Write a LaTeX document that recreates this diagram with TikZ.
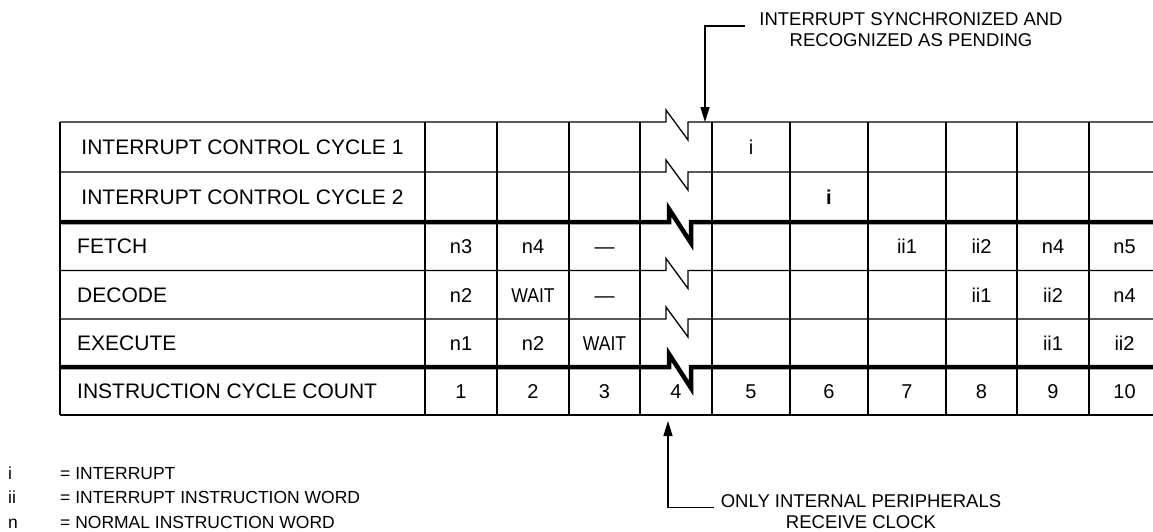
\documentclass[tikz,border=0pt]{standalone}
\usepackage{fontspec}
\setmainfont{Liberation Sans}
\usetikzlibrary{arrows.meta}

\begin{document}
\begin{tikzpicture}[x=1pt,y=-1pt,
		rule/.style={line width=1.3pt},
		heavyrule/.style={line width=4.5pt},
		rowlabel/.style={font=\fontsize{21}{25}\selectfont,inner sep=0pt,
			text height=15pt,text depth=0pt},
		cell/.style={font=\fontsize{20}{24}\selectfont,inner sep=0pt,
			text height=14.3pt,text depth=0pt},
		note/.style={font=\fontsize{18.5}{21.5}\selectfont,inner sep=0pt,
			align=center},
		legend/.style={font=\fontsize{17.5}{21}\selectfont,inner sep=0pt,
			anchor=base west},
		arrow/.style={-{Triangle[length=15pt,width=9pt]},line width=1.3pt},
		]
		\useasboundingbox (0,0) rectangle (1153,531);
		
		% Column rules
		\draw[rule] (60,122) -- (60,415) (425,122) -- (425,415)
		(497,122) -- (497,415) (569,122) -- (569,415)
		(640,122) -- (640,415) (712,122) -- (712,415)
		(790,122) -- (790,415) (868,122) -- (868,415)
		(946,122) -- (946,415) (1017,122) -- (1017,415)
		(1089,122) -- (1089,415);
		
		% Row rules, broken in column 4
		\draw[rule] (60,122) -- (666,122) -- (666,110) -- (688,140) -- (688,122) -- (1153,122);
		\draw[rule] (60,172) -- (666,172) -- (666,160) -- (688,190) -- (688,172) -- (1153,172);
		\draw[heavyrule] (60,222) -- (669,222) -- (669,209) -- (691,243) -- (691,222) -- (1153,222);
		\draw[rule] (60,270.5) -- (666,270.5) -- (666,258.5) -- (688,288.5) -- (688,270.5) -- (1153,270.5);
		\draw[rule] (60,319) -- (666,319) -- (666,307) -- (688,337) -- (688,319) -- (1153,319);
		\draw[heavyrule] (60,367) -- (669,367) -- (669,354) -- (691,388) -- (691,367) -- (1153,367);
		\draw[rule] (60,415) -- (1153,415);
		
		% Row labels
		\node[rowlabel] (icc1) at (242.5,147) {INTERRUPT CONTROL CYCLE 1};
		\node[rowlabel] (icc2) at (242.5,197) {INTERRUPT CONTROL CYCLE 2};
		\node[rowlabel,anchor=west] (fetch) at (77,246) {FETCH};
		\node[rowlabel,anchor=west] (decode) at (77,295) {DECODE};
		\node[rowlabel,anchor=west] (execute) at (77,343) {EXECUTE};
		\node[rowlabel,anchor=west] (count) at (77,391) {INSTRUCTION CYCLE COUNT};
		
		% Interrupt cycles
		\node[cell] (i5) at (751,147) {i};
		\node[cell] (i6) at (829,197) {\bfseries i};
		
		% Fetch
		\node[cell] (f1) at (461,246) {n3};
		\node[cell] (f2) at (533,246) {n4};
		\node[cell] (f3) at (604.5,246) {\textemdash};
		\node[cell] (f7) at (907,246) {ii1};
		\node[cell] (f8) at (981.5,246) {ii2};
		\node[cell] (f9) at (1053,246) {n4};
		\node[cell] (f10) at (1124.5,246) {n5};
		
		% Decode
		\node[cell] (d1) at (461,295) {n2};
		\node[cell] (d2) at (533,295) {\scalebox{.88}[1]{WAIT}};
		\node[cell] (d3) at (604.5,295) {\textemdash};
		\node[cell] (d8) at (981.5,295) {ii1};
		\node[cell] (d9) at (1053,295) {ii2};
		\node[cell] (d10) at (1124.5,295) {n4};
		
		% Execute
		\node[cell] (e1) at (461,343) {n1};
		\node[cell] (e2) at (533,343) {n2};
		\node[cell] (e3) at (604.5,343) {\scalebox{.88}[1]{WAIT}};
		\node[cell] (e9) at (1053,343) {ii1};
		\node[cell] (e10) at (1124.5,343) {ii2};
		
		% Cycle count
		\node[cell] (c1) at (461,391) {1};
		\node[cell] (c2) at (533,391) {2};
		\node[cell] (c3) at (604.5,391) {3};
		\node[cell] (c4) at (676,391) {4};
		\node[cell] (c5) at (751,391) {5};
		\node[cell] (c6) at (829,391) {6};
		\node[cell] (c7) at (907,391) {7};
		\node[cell] (c8) at (981.5,391) {8};
		\node[cell] (c9) at (1053,391) {9};
		\node[cell] (c10) at (1124.5,391) {10};
		
		% Callouts
		\node[note] (pending) at (911,29.5) {INTERRUPT SYNCHRONIZED AND\\RECOGNIZED AS PENDING};
		\coordinate (pendingtip) at (705,122);
		\draw[arrow] ([xshift=-14pt,yshift=3.5pt]pending.west) -| (pendingtip);
		
		\node[note] (clock) at (861,511.5) {ONLY INTERNAL PERIPHERALS\\RECEIVE CLOCK};
		\coordinate (clocktip) at (668,421);
		\draw[arrow] ([xshift=-7pt,yshift=4pt]clock.west) -| (clocktip);
		
		% Legend
		\node[legend] (keyi) at (8,479) {i};
		\node[legend] (keyii) at (8,503.5) {ii};
		\node[legend] (keyn) at (8,528) {n};
		\node[legend] (defi) at (60,479) {= INTERRUPT};
		\node[legend] (defii) at (60,503.5) {= INTERRUPT INSTRUCTION WORD};
		\node[legend] (defn) at (60,528) {= NORMAL INSTRUCTION WORD};
	\end{tikzpicture}
\end{document}
